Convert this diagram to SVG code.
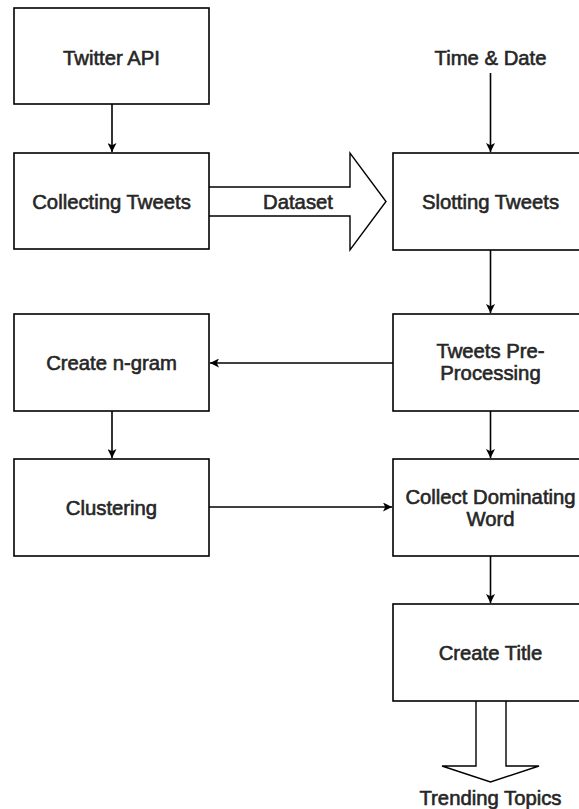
<svg xmlns="http://www.w3.org/2000/svg" width="579" height="809" viewBox="0 0 579 809">
  <defs>
    <marker id="arrow" viewBox="0 0 10 10" refX="10" refY="5" markerWidth="9" markerHeight="9" markerUnits="userSpaceOnUse" orient="auto">
      <path d="M0,0 L10,5 L0,10 L2.5,5 Z" fill="#000"/>
    </marker>
    <style>
      .box { fill: #fff; stroke: #000; stroke-width: 1.6; }
      .edge { fill: none; stroke: #000; stroke-width: 1.6; marker-end: url(#arrow); }
      .block { fill: #fff; stroke: #000; stroke-width: 1.4; stroke-linejoin: miter; }
      .label { font-family: "Liberation Sans", Arial, sans-serif; font-size: 20.3px; fill: #262626; stroke: #262626; stroke-width: 0.6; text-anchor: middle; }
    </style>
  </defs>
  <rect width="579" height="809" fill="#fff"/>

  <!-- connectors -->
  <g id="connectors">
    <line class="edge" x1="112" y1="104" x2="112" y2="152"/>
    <line class="edge" x1="490.5" y1="73" x2="490.5" y2="152"/>
    <line class="edge" x1="490.5" y1="250" x2="490.5" y2="313"/>
    <line class="edge" x1="393" y1="363" x2="210" y2="363"/>
    <line class="edge" x1="112" y1="411" x2="112" y2="458"/>
    <line class="edge" x1="490.5" y1="411" x2="490.5" y2="458"/>
    <line class="edge" x1="209" y1="507" x2="392" y2="507"/>
    <line class="edge" x1="490.5" y1="556" x2="490.5" y2="603"/>
    <!-- block arrow: Dataset -->
    <path class="block" d="M209,187 L350,187 L350,153 L386,201.5 L350,250 L350,216 L209,216"/>
    <text class="label" x="298" y="209">Dataset</text>
    <!-- block arrow: Trending Topics -->
    <path class="block" d="M476,701 L476,766 L442,766 L490.5,782 L539,766 L506,766 L506,701"/>
  </g>

  <g id="twitter-api">
    <rect class="box" x="14" y="8" width="195" height="96"/>
    <text class="label" x="111.5" y="65">Twitter API</text>
  </g>
  <g id="collecting-tweets">
    <rect class="box" x="14" y="153" width="195" height="96"/>
    <text class="label" x="111.5" y="209">Collecting Tweets</text>
  </g>
  <g id="time-date">
    <text class="label" x="490.5" y="65">Time &amp; Date</text>
  </g>
  <g id="slotting-tweets">
    <rect class="box" x="393" y="153" width="195" height="97"/>
    <text class="label" x="490.5" y="209">Slotting Tweets</text>
  </g>
  <g id="create-ngram">
    <rect class="box" x="14" y="314" width="195" height="97"/>
    <text class="label" x="111.5" y="370">Create n-gram</text>
  </g>
  <g id="tweets-preprocessing">
    <rect class="box" x="393" y="314" width="195" height="97"/>
    <text class="label" x="490.5" y="358">Tweets Pre-</text>
    <text class="label" x="490.5" y="380">Processing</text>
  </g>
  <g id="clustering">
    <rect class="box" x="14" y="459" width="195" height="97"/>
    <text class="label" x="111.5" y="515">Clustering</text>
  </g>
  <g id="collect-dominating-word">
    <rect class="box" x="393" y="459" width="195" height="97"/>
    <text class="label" x="490.5" y="504">Collect Dominating</text>
    <text class="label" x="490.5" y="526">Word</text>
  </g>
  <g id="create-title">
    <rect class="box" x="393" y="604" width="195" height="97"/>
    <text class="label" x="490.5" y="660">Create Title</text>
  </g>
  <g id="trending-topics">
    <text class="label" x="490.5" y="805">Trending Topics</text>
  </g>
</svg>
